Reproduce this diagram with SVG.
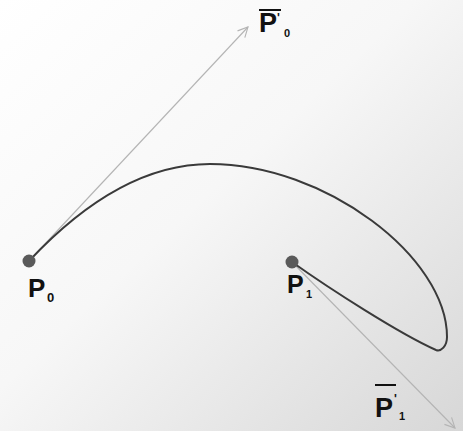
<svg xmlns="http://www.w3.org/2000/svg" width="463" height="431" viewBox="0 0 463 431">
  <defs>
    <linearGradient id="bg" x1="0" y1="0" x2="1" y2="1">
      <stop offset="0" stop-color="#ffffff"/>
      <stop offset="0.45" stop-color="#f7f7f7"/>
      <stop offset="1" stop-color="#d7d7d7"/>
    </linearGradient>
    <marker id="arr" viewBox="0 0 12 12" refX="11" refY="6" markerWidth="12" markerHeight="12" markerUnits="userSpaceOnUse" orient="auto">
      <path d="M1,1 L11,6 L1,11" fill="none" stroke="#b4b4b4" stroke-width="1.1"/>
    </marker>
    <style>
      .lbl { font-family: "Liberation Sans", Arial, sans-serif; font-weight: bold; fill: #111; }
      .tan { stroke: #b4b4b4; stroke-width: 1.1; fill: none; }
      .curve { stroke: #3a3a3a; stroke-width: 2; fill: none; }
      .pt { fill: #5a5a5a; }
      .bar { stroke: #111; stroke-width: 2; }
    </style>
  </defs>
  <rect width="463" height="431" fill="url(#bg)"/>

  <g id="connectors">
    <line class="tan" x1="29" y1="261" x2="248" y2="27" marker-end="url(#arr)"/>
    <line class="tan" x1="292" y1="262" x2="455" y2="428" marker-end="url(#arr)"/>
    <path class="curve" d="M29,261 C89,197 150,164 210,164 C325,164 447,257 447,337 C447,346 441,352 436,350 C400,334 330,289 292,262"/>
  </g>

  <g id="P0">
    <circle class="pt" cx="29" cy="261" r="6.5"/>
    <text class="lbl" x="28" y="297" font-size="26">P</text>
    <text class="lbl" x="47" y="302" font-size="13">0</text>
  </g>

  <g id="P1">
    <circle class="pt" cx="292" cy="262" r="6.5"/>
    <text class="lbl" x="287" y="293" font-size="25">P</text>
    <text class="lbl" x="306" y="298" font-size="11">1</text>
  </g>

  <g id="dP0">
    <line class="bar" x1="259" y1="10" x2="281" y2="10"/>
    <text class="lbl" x="259" y="32" font-size="27">P</text>
    <text class="lbl" x="277" y="22" font-size="12">'</text>
    <text class="lbl" x="284" y="37" font-size="11">0</text>
  </g>

  <g id="dP1">
    <line class="bar" x1="375" y1="385" x2="396" y2="385"/>
    <text class="lbl" x="375" y="417" font-size="27">P</text>
    <text class="lbl" x="394" y="403" font-size="12">'</text>
    <text class="lbl" x="399" y="420" font-size="11">1</text>
  </g>
</svg>
